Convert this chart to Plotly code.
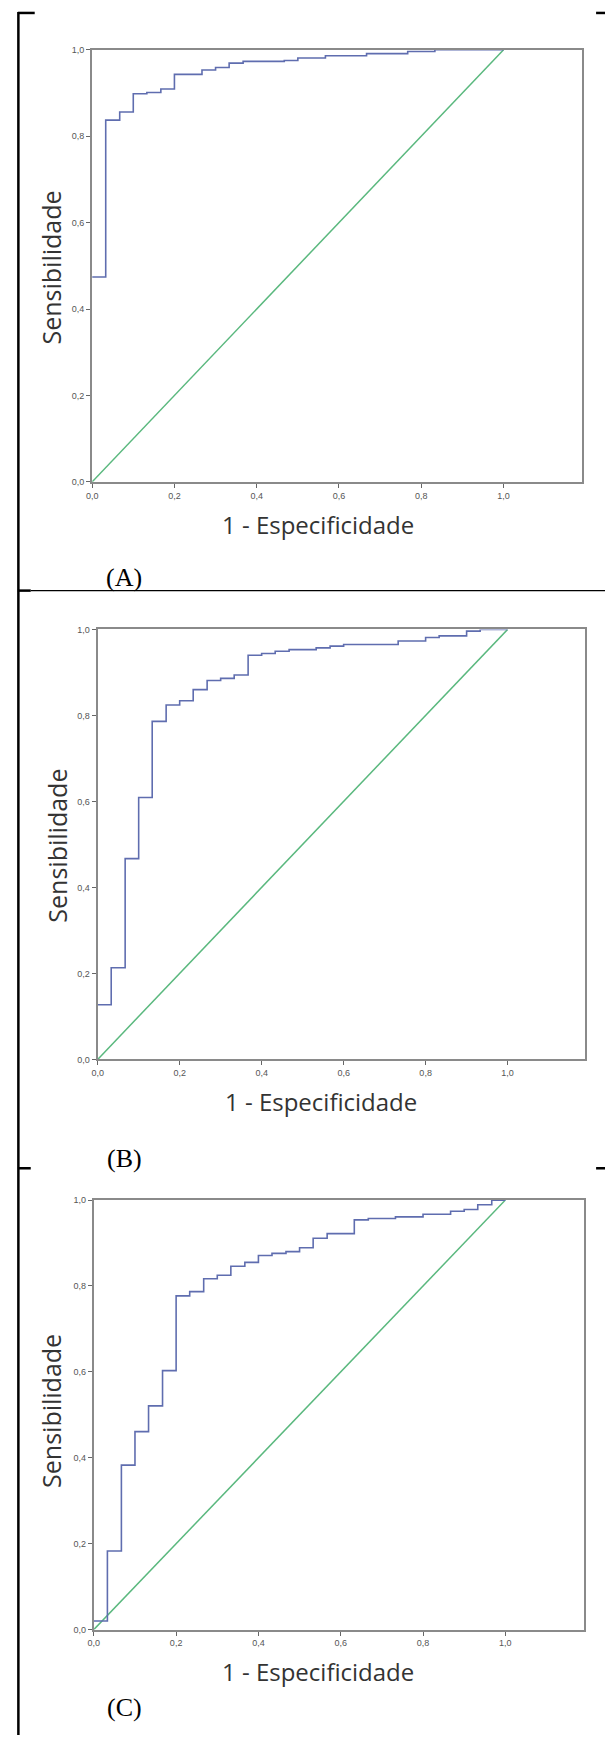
import plotly.graph_objects as go

# ---------------- data ----------------
fpr_a = [0, 0.033, 0.067, 0.1, 0.133, 0.167, 0.2, 0.267, 0.3, 0.333, 0.367, 0.467, 0.5, 0.567, 0.667, 0.767, 0.833, 1.0]
tpr_a = [0.474, 0.837, 0.856, 0.898, 0.901, 0.909, 0.943, 0.953, 0.959, 0.969, 0.973, 0.975, 0.981, 0.986, 0.991, 0.996, 1.0, 1.0]

fpr_b = [0, 0.033, 0.067, 0.1, 0.133, 0.167, 0.2, 0.233, 0.267, 0.3, 0.333, 0.367, 0.4, 0.433, 0.467, 0.533, 0.567, 0.6, 0.733, 0.8, 0.833, 0.9, 0.933, 1.0]
tpr_b = [0.127, 0.213, 0.467, 0.609, 0.786, 0.824, 0.834, 0.860, 0.881, 0.886, 0.894, 0.940, 0.944, 0.949, 0.953, 0.957, 0.961, 0.965, 0.973, 0.981, 0.985, 0.996, 1.0, 1.0]

fpr_c = [0, 0.033, 0.067, 0.1, 0.133, 0.167, 0.2, 0.233, 0.267, 0.3, 0.333, 0.367, 0.4, 0.433, 0.467, 0.5, 0.533, 0.567, 0.633, 0.667, 0.733, 0.8, 0.867, 0.9, 0.933, 0.967, 1.0]
tpr_c = [0.02, 0.183, 0.383, 0.461, 0.521, 0.603, 0.777, 0.787, 0.817, 0.825, 0.846, 0.855, 0.871, 0.876, 0.880, 0.889, 0.911, 0.922, 0.954, 0.957, 0.961, 0.967, 0.974, 0.978, 0.989, 1.0, 1.0]

ref_x = [0, 1]
ref_y = [0, 1]

tick_vals = [0, 0.2, 0.4, 0.6, 0.8, 1.0]
tick_text = ["0,0", "0,2", "0,4", "0,6", "0,8", "1,0"]
panel_labels = ["(A)", "(B)", "(C)"]
x_title = "1 - Especificidade"
y_title = "Sensibilidade"

# ---------------- layout geometry (pixels) ----------------
W, H = 605, 1740
panels = [
    dict(l=87, r=581.5, t=45, b=479.6, yl=(45.5, 264), xl=(315.6, 523), tag=(119.6, 576)),
    dict(l=92.6, r=585.3, t=628, b=1060.5, yl=(52, 845), xl=(318, 1103), tag=(119.6, 1160)),
    dict(l=88.7, r=583.3, t=1202, b=1634, yl=(45.5, 1414), xl=(315.6, 1676), tag=(119.6, 1712)),
]

def px(x):
    return x / W

def py(y):
    return 1 - y / H

BLUE = "#5f6daf"
GREEN = "#5ab87e"
FRAME = "#8a8a8a"

fig = go.Figure()
data = [(fpr_a, tpr_a), (fpr_b, tpr_b), (fpr_c, tpr_c)]
annotations = []
layout = {}
for i, (p, (fx, ty)) in enumerate(zip(panels, data)):
    n = "" if i == 0 else str(i + 1)
    xa, ya = "x" + n, "y" + n
    fig.add_trace(go.Scatter(x=ref_x, y=ref_y, mode="lines", xaxis=xa, yaxis=ya,
                             line=dict(color=GREEN, width=1.5), showlegend=False, hoverinfo="skip"))
    fig.add_trace(go.Scatter(x=fx, y=ty, mode="lines", line_shape="hv", xaxis=xa, yaxis=ya,
                             line=dict(color=BLUE, width=1.6), showlegend=False))
    axis_common = dict(showline=True, linecolor=FRAME, linewidth=2, mirror=True,
                       showgrid=False, zeroline=False, ticks="outside", ticklen=4,
                       tickcolor="#666", tickwidth=1, tickvals=tick_vals, ticktext=tick_text,
                       tickfont=dict(family="Liberation Sans", size=9, color="#555"),
                       layer="above traces")
    layout["xaxis" + n] = dict(axis_common, domain=[px(p["l"]), px(p["r"])],
                               range=[0, 1.19], anchor=ya)
    layout["yaxis" + n] = dict(axis_common, domain=[py(p["b"]), py(p["t"])],
                               range=[0, 1], anchor=xa)
    annotations.append(dict(x=px(p["yl"][0]), y=py(p["yl"][1]), xref="paper", yref="paper",
                            text=y_title, textangle=-90, showarrow=False,
                            font=dict(family="Open Sans", size=25, color="#333"),
                            xanchor="center", yanchor="middle"))
    annotations.append(dict(x=px(p["xl"][0]), y=py(p["xl"][1]), xref="paper", yref="paper",
                            text=x_title, showarrow=False,
                            font=dict(family="Open Sans", size=24, color="#333"),
                            xanchor="center", yanchor="middle"))
    annotations.append(dict(x=px(p["tag"][0]), y=py(p["tag"][1]), xref="paper", yref="paper",
                            text=panel_labels[i], showarrow=False,
                            font=dict(family="Liberation Serif", size=26, color="#000"),
                            xanchor="center", yanchor="middle"))

shapes = []
def hline(x0, x1, y, w):
    shapes.append(dict(type="line", xref="paper", yref="paper", x0=px(x0), x1=px(x1),
                       y0=py(y), y1=py(y), line=dict(color="#000", width=w)))

# left vertical border
shapes.append(dict(type="line", xref="paper", yref="paper", x0=px(12.5), x1=px(12.5),
                   y0=py(7), y1=py(1740), line=dict(color="#000", width=2.5)))
# top border segments
hline(12, 29, 8, 2.5)
hline(596, 605, 8, 2.5)
# separator A/B (full width)
hline(12, 25, 589, 2.5)
hline(25, 605, 589, 1.2)
# separator B/C
hline(12, 25, 1170, 2.5)
hline(596, 605, 1170, 2.5)

fig.update_layout(width=W, height=H, autosize=False,
                  margin=dict(l=0, r=0, t=0, b=0),
                  paper_bgcolor="white", plot_bgcolor="white",
                  annotations=annotations, shapes=shapes, showlegend=False, **layout)

fig.write_html("out.html", config={"displayModeBar": False},
               post_script="document.body.style.margin='0';document.body.style.padding='0';")
